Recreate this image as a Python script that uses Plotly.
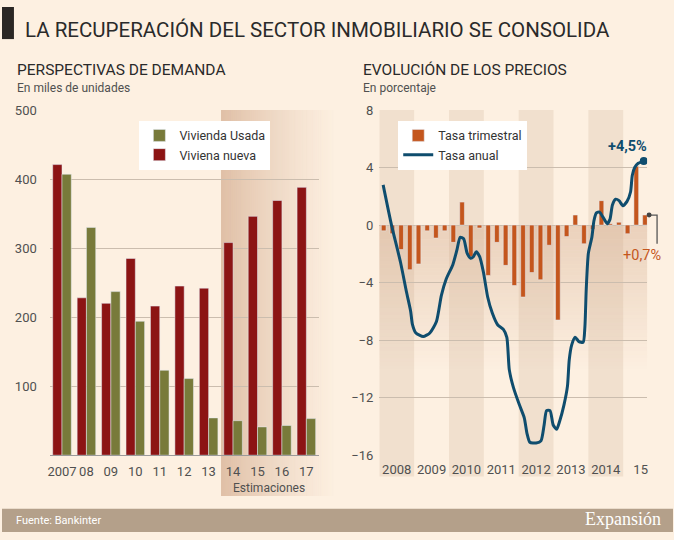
import plotly.graph_objects as go

W, H = 674, 540

# --- datos: perspectivas de demanda (miles de unidades)
anios_demanda = ['2007', '08', '09', '10', '11', '12', '13', '14', '15', '16', '17']
vivienda_nueva = [421, 228, 220, 285, 216, 245, 242, 308, 346, 369, 388]
vivienda_usada = [407, 330, 237, 194, 123, 111, 54, 50, 41, 43, 53]

# --- datos: evolución de los precios (%)
anios_precios = [2008, 2009, 2010, 2011, 2012, 2013, 2014, 2015]
etiquetas_anios = ['2008', '2009', '2010', '2011', '2012', '2013', '2014', '15']
tasa_trimestral = [-0.4, -0.6, -1.7, -3.1,
                   -2.7, -0.4, -0.9, -0.4,
                   -1.2, 1.6, -2.2, -0.2,
                   -3.5, -1.2, -2.8, -4.2,
                   -5.0, -3.3, -3.8, -1.4,
                   -6.6, -0.8, 0.7, -1.3,
                   -0.3, 1.7, 0.1, 0.2,
                   -0.6, 4.1, 0.7]
fecha_anual = [2008.11, 2008.35, 2008.61, 2008.78, 2008.90, 2008.95, 2009.05,
               2009.26, 2009.45, 2009.64, 2009.78, 2009.92, 2010.11, 2010.23,
               2010.32, 2010.42, 2010.52, 2010.62, 2010.70, 2010.78, 2010.88,
               2010.99, 2011.11, 2011.24, 2011.40, 2011.56, 2011.66, 2011.73,
               2011.85, 2012.02, 2012.16, 2012.24, 2012.32, 2012.50, 2012.64,
               2012.73, 2012.80, 2012.90, 2012.99, 2013.09, 2013.18, 2013.30,
               2013.40, 2013.45, 2013.52, 2013.62, 2013.73, 2013.85, 2013.90,
               2013.94, 2014.00, 2014.10, 2014.16, 2014.23, 2014.32, 2014.42,
               2014.54, 2014.62, 2014.69, 2014.78, 2014.88, 2014.99, 2015.11,
               2015.21, 2015.26, 2015.33, 2015.43, 2015.59]
tasa_anual = [2.8, 0.0, -2.6, -4.65, -6.0, -6.9, -7.5,
              -7.75, -7.5, -6.7, -4.9, -3.75, -2.75, -1.7,
              -0.85, -0.95, -1.95, -2.3, -2.2, -1.85, -2.2,
              -3.3, -5.0, -6.1, -6.95, -7.25, -7.8, -10.05,
              -11.3, -12.5, -13.4, -14.5, -15.1, -15.15, -15.0,
              -13.9, -12.9, -12.9, -13.9, -14.2, -13.6, -12.5,
              -11.2, -9.4, -8.35, -7.8, -8.1, -8.15, -7.1,
              -4.4, -1.95, -0.85, 0.3, 0.85, 0.9, 0.55,
              0.1, 0.4, 1.4, 1.8, 1.7, 1.35, 1.65,
              2.3, 3.45, 4.0, 4.3, 4.45]

BG = '#fdf0e1'
GRID = '#cbbdae'
TXT = '#505050'
ROJO = '#8c1414'
VERDE = '#787a3a'
NARANJA = '#c4561d'
AZUL = '#0f4d6e'
FONT = 'Roboto, sans-serif'


def px(x):
    return x / W


def py(y):
    return 1 - y / H


fecha_trim = [anios_precios[0] + (i + 0.5) / 4 for i in range(len(tasa_trimestral))]

fig = go.Figure()

fig.add_trace(go.Bar(x=anios_demanda, y=vivienda_nueva, name='Viviena nueva',
                     marker_color=ROJO, legend='legend', legendrank=2,
                     xaxis='x', yaxis='y'))
fig.add_trace(go.Bar(x=anios_demanda, y=vivienda_usada, name='Vivienda Usada',
                     marker_color=VERDE, legend='legend', legendrank=1,
                     xaxis='x', yaxis='y'))

fig.add_trace(go.Bar(x=fecha_trim, y=tasa_trimestral, name='Tasa trimestral',
                     marker_color=NARANJA, width=0.135, legend='legend2',
                     xaxis='x2', yaxis='y2', offsetgroup='p'))
fig.add_trace(go.Scatter(x=fecha_anual, y=tasa_anual, name='Tasa anual',
                         mode='lines', line=dict(color=AZUL, width=3, shape='spline', smoothing=0.6),
                         legend='legend2', xaxis='x2', yaxis='y2'))
fig.add_trace(go.Scatter(x=fecha_anual[-1:], y=tasa_anual[-1:], mode='markers',
                         marker=dict(color=AZUL, size=8), showlegend=False,
                         xaxis='x2', yaxis='y2'))

shapes = []
# barra negra del título
shapes.append(dict(type='rect', xref='paper', yref='paper', x0=0, x1=px(12),
                   y0=py(33), y1=1, fillcolor='#2b2724', line_width=0))
# pie
shapes.append(dict(type='rect', xref='paper', yref='paper', x0=0, x1=1,
                   y0=0, y1=py(516), fillcolor='#b4a08a', line_width=0))

# degradado de estimaciones (izquierda)
x_ini, x_fin = 220, 336
pasos = 58
for i in range(pasos):
    a = 0.6 * (1 - i / pasos) ** 1.2
    x0 = x_ini + (x_fin - x_ini) * i / pasos
    x1 = x_ini + (x_fin - x_ini) * (i + 1) / pasos
    shapes.append(dict(type='rect', xref='paper', yref='paper', x0=px(x0), x1=px(x1),
                       y0=py(503), y1=py(106), fillcolor='rgba(205,160,128,%.3f)' % a,
                       line_width=0, layer='below'))

# franjas de años (derecha)
for k, a in enumerate(anios_precios):
    if k % 2 == 0:
        shapes.append(dict(type='rect', xref='x2', yref='paper', x0=a, x1=a + 1,
                           y0=py(483), y1=py(106), fillcolor='#f1e0ce',
                           line_width=0, layer='below'))

# degradado bajo cero (derecha)
pasos = 40
for i in range(pasos):
    a = 0.38 * (1 - i / pasos)
    shapes.append(dict(type='rect', xref='paper', yref='y2', x0=px(379), x1=px(648),
                       y0=-10 * i / pasos, y1=-10 * (i + 1) / pasos,
                       fillcolor='rgba(205,160,128,%.3f)' % a, line_width=0, layer='below'))

# llamada +0,7%
shapes.append(dict(type='path', xref='paper', yref='y2',
                   path='M %f,%f L %f,%f L %f,%f' % (px(650), tasa_trimestral[-1], px(658),
                                                     tasa_trimestral[-1], px(658), -1.3),
                   line=dict(color='#555555', width=1.3)))
shapes.append(dict(type='circle', xref='paper', yref='y2', x0=px(647.5), x1=px(652.5),
                   y0=tasa_trimestral[-1] - 0.17, y1=tasa_trimestral[-1] + 0.17,
                   fillcolor='#444444', line_width=0))

annotations = [
    dict(text='LA RECUPERACIÓN DEL SECTOR INMOBILIARIO SE CONSOLIDA', x=px(21), y=py(24),
         xanchor='left', yanchor='middle', font=dict(size=20.5, color='#2a2a2a')),
    dict(text='PERSPECTIVAS DE DEMANDA', x=px(13), y=py(65), xanchor='left', yanchor='middle',
         font=dict(size=15.5, color='#2a2a2a')),
    dict(text='En miles de unidades', x=px(13), y=py(83), xanchor='left', yanchor='middle',
         font=dict(size=12, color=TXT)),
    dict(text='EVOLUCIÓN DE LOS PRECIOS', x=px(361), y=py(65), xanchor='left', yanchor='middle',
         font=dict(size=15.5, color='#2a2a2a')),
    dict(text='En porcentaje', x=px(361), y=py(83), xanchor='left', yanchor='middle',
         font=dict(size=12, color=TXT)),
    dict(text='Estimaciones', x=px(268), y=py(495), xanchor='center', yanchor='middle',
         font=dict(size=12, color=TXT)),
    dict(text='Fuente: Bankinter', x=px(12), y=py(528), xanchor='left', yanchor='middle',
         font=dict(size=11, color='white')),
    dict(text='Expansión', x=px(664), y=py(527), xanchor='right', yanchor='middle',
         font=dict(size=18, color='white', family='Liberation Serif, serif')),
    dict(text='<b>+4,5%</b>', x=fecha_anual[-1], y=tasa_anual[-1], xref='x2', yref='y2',
         xshift=-16, yshift=15, xanchor='center', yanchor='middle',
         font=dict(size=14.5, color=AZUL)),
    dict(text='+0,7%', x=px(643), y=tasa_trimestral[-1], xref='paper', yref='y2',
         yshift=-40, xanchor='center', yanchor='middle',
         font=dict(size=14.5, color=NARANJA)),
]
for an in annotations:
    an.setdefault('xref', 'paper')
    an.setdefault('yref', 'paper')
    an.setdefault('showarrow', False)

fig.update_layout(
    width=W, height=H, margin=dict(l=0, r=0, t=0, b=0),
    paper_bgcolor=BG, plot_bgcolor='rgba(0,0,0,0)',
    font=dict(family=FONT, size=13, color=TXT),
    barmode='group', bargap=0.24, bargroupgap=0,
    shapes=shapes, annotations=annotations,
    xaxis=dict(domain=[px(48), px(318)], range=[-0.5, 10.5], showgrid=False, anchor='y',
               showline=True, linecolor='#9a9a9a', ticks='', tickfont=dict(size=13),
               tickangle=0, ticklabelstandoff=4, fixedrange=True),
    yaxis=dict(domain=[py(461), py(106)], range=[0, 500], tickvals=[100, 200, 300, 400, 500],
               anchor='x', gridcolor=GRID, showline=False, zeroline=False,
               ticklabelstandoff=12, tickfont=dict(size=13), fixedrange=True),
    xaxis2=dict(domain=[px(379), px(648)], range=[2008, 2015.686], anchor='y2',
                tickvals=[a + 0.5 for a in anios_precios], ticktext=etiquetas_anios,
                showgrid=False, showline=False, zeroline=False, ticks='', tickangle=0,
                ticklabelstandoff=5, tickfont=dict(size=13), fixedrange=True),
    yaxis2=dict(domain=[py(461), py(106)], range=[-16, 8], tickvals=[-16, -12, -8, -4, 0, 4, 8],
                anchor='x2', gridcolor=GRID, zeroline=False, ticklabelstandoff=5,
                tickfont=dict(size=13), fixedrange=True),
    legend=dict(x=px(138), y=py(117), xanchor='left', yanchor='top', bgcolor='white',
                font=dict(size=12.5, color='#333333'), tracegroupgap=2, itemwidth=30),
    legend2=dict(x=px(398), y=py(117), xanchor='left', yanchor='top', bgcolor='white',
                 font=dict(size=12.5, color='#333333'), tracegroupgap=2, itemwidth=30),
)

fig.write_html("out.html", config={'displayModeBar': False})

with open("out.html", encoding="utf-8") as f:
    html = f.read()
html = html.replace("<head>", "<head><style>body{margin:0;}</style>", 1)
with open("out.html", "w", encoding="utf-8") as f:
    f.write(html)
